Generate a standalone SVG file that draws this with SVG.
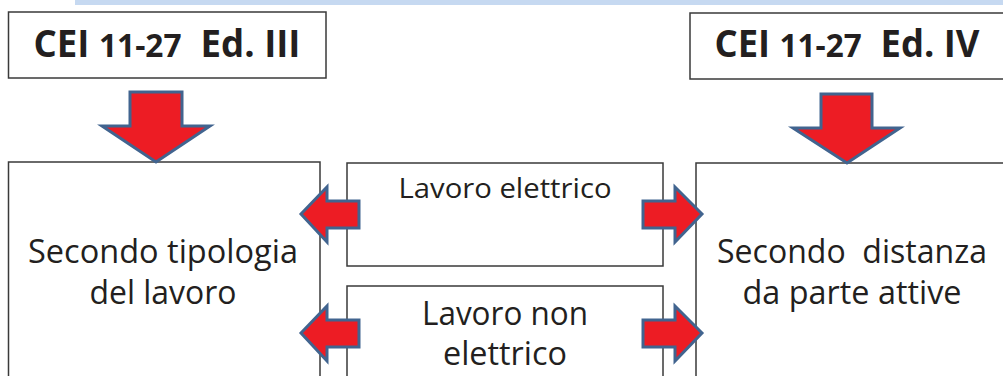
<svg xmlns="http://www.w3.org/2000/svg" width="1003" height="376" viewBox="0 0 1003 376">
<style>
.box{fill:#fff;stroke:#3a3a3a;stroke-width:1.5}
.arr{fill:#ed1c24;stroke:#41648f;stroke-width:3;stroke-linejoin:miter}
.t{font-family:"Open Sans","Liberation Sans",sans-serif;fill:#231f20;text-anchor:middle}
.h{font-family:"Open Sans","Liberation Sans",sans-serif;font-weight:bold;fill:#231f20;text-anchor:middle;font-size:37px}
</style>
<rect x="75" y="0" width="928" height="5" fill="#c6d9f1"/>
<g id="hdr3">
<rect class="box" x="8.5" y="12" width="317.5" height="66"/>
<text class="h" x="167" y="57" textLength="267" lengthAdjust="spacingAndGlyphs" xml:space="preserve">CEI <tspan font-size="32">11-27</tspan>  Ed. III</text>
</g>
<g id="hdr4">
<rect class="box" x="690" y="13" width="320" height="66"/>
<text class="h" x="847" y="57" textLength="265" lengthAdjust="spacingAndGlyphs" xml:space="preserve">CEI <tspan font-size="32">11-27</tspan>  Ed. IV</text>
</g>
<g id="tipologia">
<rect class="box" x="8.5" y="162" width="311.5" height="230"/>
<text class="t" font-size="32" x="163" y="263" textLength="270" lengthAdjust="spacingAndGlyphs">Secondo tipologia</text>
<text class="t" font-size="32" x="163" y="304" textLength="147" lengthAdjust="spacingAndGlyphs">del lavoro</text>
</g>
<g id="distanza">
<rect class="box" x="696" y="163" width="320" height="230"/>
<text class="t" font-size="32" x="852" y="263" textLength="270" lengthAdjust="spacingAndGlyphs" xml:space="preserve">Secondo  distanza</text>
<text class="t" font-size="32" x="852" y="304" textLength="219" lengthAdjust="spacingAndGlyphs">da parte attive</text>
</g>
<g id="elettrico">
<rect class="box" x="347" y="163" width="316" height="103"/>
<text class="t" font-size="27" x="505" y="198" textLength="213" lengthAdjust="spacingAndGlyphs">Lavoro elettrico</text>
</g>
<g id="nonelettrico">
<rect class="box" x="347" y="286" width="316" height="110"/>
<text class="t" font-size="32" x="505" y="325" textLength="166" lengthAdjust="spacingAndGlyphs">Lavoro non</text>
<text class="t" font-size="32" x="505" y="365" textLength="124" lengthAdjust="spacingAndGlyphs">elettrico</text>
</g>
<g id="connectors">
<polygon class="arr" points="130,92 182,92 182,126 210,126 156,162 102,126 130,126"/>
<polygon class="arr" points="821,94 872,94 872,128 900,128 847,163 793,128 821,128"/>
<polygon class="arr" points="301,214 327,187 327,201 359,201 359,228 327,228 327,242"/>
<polygon class="arr" points="301,333 327,306 327,320 359,320 359,347 327,347 327,361"/>
<polygon class="arr" points="702,214 675,187 675,201 643,201 643,228 675,228 675,242"/>
<polygon class="arr" points="702,333 675,306 675,320 643,320 643,347 675,347 675,361"/>
</g>
</svg>
